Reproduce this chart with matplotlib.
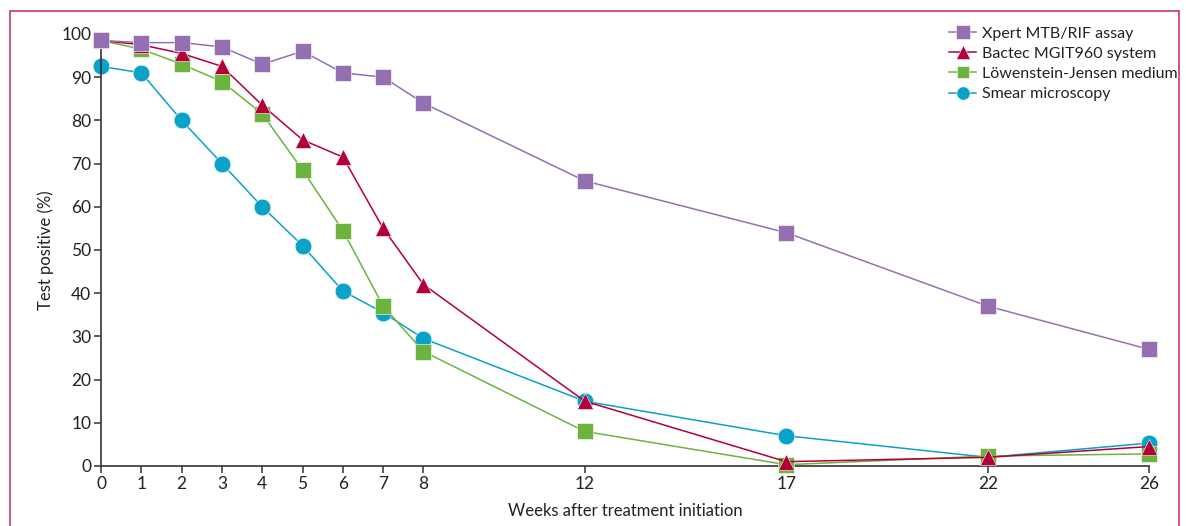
"""
Recreates the 'Test positive (%) by weeks after treatment initiation' chart.
Four diagnostic tests, percentage positive over 26 weeks.
"""

import matplotlib
matplotlib.use("Agg")
import matplotlib.pyplot as plt
from matplotlib.patches import Rectangle


# ─── Data ──────────────────────────────────────────────────────────────────────

weeks = [0, 1, 2, 3, 4, 5, 6, 7, 8, 12, 17, 22, 26]

xpert  = [98.5, 98, 98, 97, 93, 96, 91, 90, 84, 66, 54, 37, 27]
bactec = [98.5, 97.5, 95.5, 92.5, 83.5, 75.5, 71.5, 55, 42, 15, 1, 2, 4.5]
lj     = [98.5, 96.5, 93, 89, 81.5, 68.5, 54.5, 37, 26.5, 8, 0.3, 2.3, 2.8]
smear  = [92.5, 91, 80, 70, 60, 51, 40.5, 35.5, 29.5, 15, 7, 2, 5.3]

series_names = [
    "Xpert MTB/RIF assay",
    "Bactec MGIT960 system",
    "Löwenstein-Jensen medium",
    "Smear microscopy",
]

x_ticks = [0, 1, 2, 3, 4, 5, 6, 7, 8, 12, 17, 22, 26]
y_ticks = [0, 10, 20, 30, 40, 50, 60, 70, 80, 90, 100]


# ─── Style ─────────────────────────────────────────────────────────────────────

plt.rcParams["font.family"] = ["Lato", "DejaVu Sans"]

PURPLE = "#9470b2"
RED    = "#b4003a"
GREEN  = "#6cb33f"
BLUE   = "#0aa2c8"
FRAME  = "#c63a60"
TEXT   = "#222222"


# ─── Plot ──────────────────────────────────────────────────────────────────────

fig = plt.figure(figsize=(11.86, 5.26), dpi=100)
ax = fig.add_axes([0.0852, 0.1141, 0.8836, 0.8213])

# (values, colour, marker, size, zorder) in legend order
styles = [
    (xpert,  PURPLE, "s", 12.0, 5),
    (bactec, RED,    "^", 12.0, 4),
    (lj,     GREEN,  "s", 11.5, 3),
    (smear,  BLUE,   "o", 12.0, 2),
]

for (vals, col, mk, ms, z), name in zip(styles, series_names):
    ax.plot(weeks, vals, color=col, lw=1.1, marker=mk, markersize=ms,
            markeredgecolor="white", markeredgewidth=0.4,
            label=name, zorder=z, clip_on=False)

ax.set_xlim(0, 26)
ax.set_ylim(0, 100)
ax.set_xticks(x_ticks)
ax.set_yticks(y_ticks)

ax.spines[["top", "right"]].set_visible(False)
for side in ["left", "bottom"]:
    ax.spines[side].set_color("#333333")
    ax.spines[side].set_linewidth(1.2)
ax.tick_params(direction="out", length=5, width=1.1, color="#333333",
               labelsize=12.5, labelcolor=TEXT, pad=2)

ax.set_xlabel("Weeks after treatment initiation", fontsize=12, color=TEXT,
              labelpad=8)
ax.set_ylabel("Test positive (%)", fontsize=12, color=TEXT, labelpad=5)

ax.legend(loc="upper left", bbox_to_anchor=(0.795, 0.962),
          bbox_transform=fig.transFigure, frameon=False, fontsize=11.5,
          handlelength=1.7, handletextpad=0.35, labelspacing=0.38,
          markerscale=0.8, borderaxespad=0, labelcolor=TEXT)

# Journal-style frame around the figure (bottom edge runs off the image)
fig.patches.append(Rectangle((10 / 1186, -0.1), 1169 / 1186, 1 - 11 / 526 + 0.1,
                             transform=fig.transFigure, fill=False,
                             edgecolor=FRAME, linewidth=1.2))

fig.savefig("out.png", dpi=100)
